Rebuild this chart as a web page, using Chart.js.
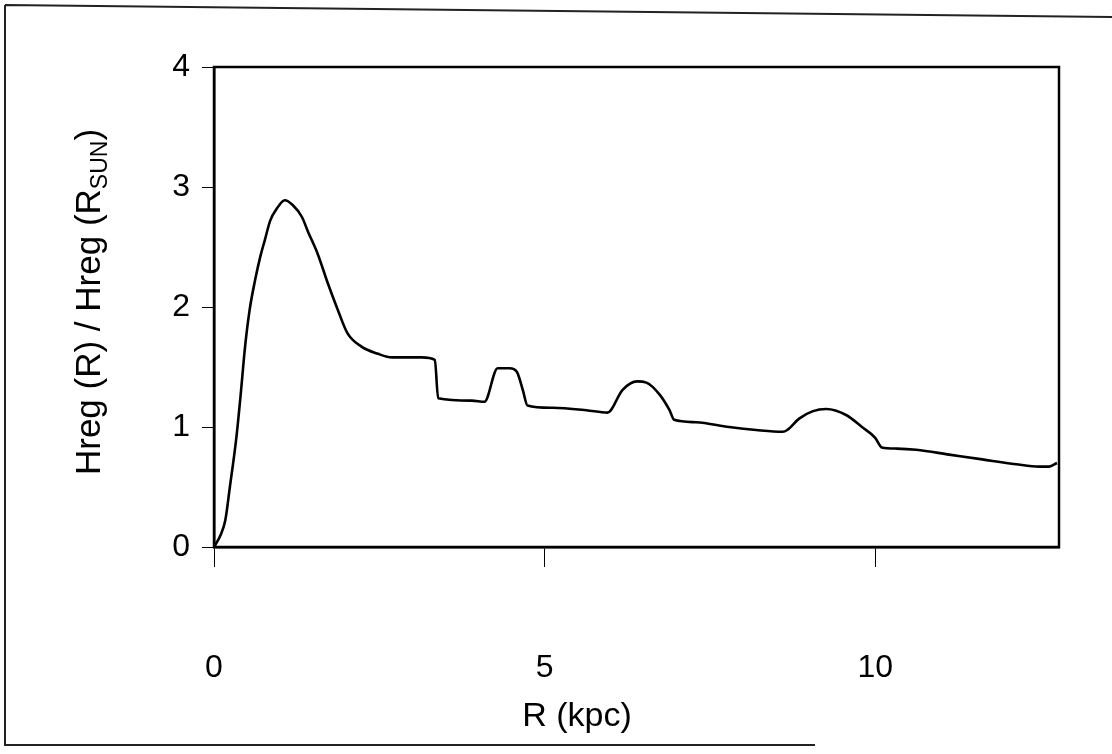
<!DOCTYPE html>
<html><head><meta charset="utf-8">
<script src="https://cdn.jsdelivr.net/npm/chart.js@4"></script>
<style>html,body{margin:0;padding:0;background:#fff}canvas{display:block}</style>
</head><body>
<canvas id="c" width="1112" height="754"></canvas>
<script>
// ---- data ----
const rKpc = [0, 0.10, 0.17, 0.24, 0.34, 0.40, 0.47, 0.54, 0.62, 0.70, 0.77, 0.85, 0.95, 1.07, 1.19, 1.33, 1.42, 1.57, 1.72, 1.87, 2.02, 2.23, 2.48, 2.69, 3.14, 3.34, 3.39, 3.90, 4.09, 4.29, 4.47, 4.58, 4.67, 4.74, 5.12, 5.63, 5.95, 6.18, 6.40, 6.54, 6.74, 6.89, 6.96, 7.29, 7.79, 8.20, 8.60, 8.67, 8.85, 9.05, 9.26, 9.56, 9.80, 10.0, 10.1, 10.33, 10.62, 11.12, 11.62, 12.13, 12.48, 12.63, 12.75];
const hRatio = [0, 0.1, 0.22, 0.5, 0.92, 1.25, 1.67, 1.98, 2.22, 2.42, 2.56, 2.72, 2.82, 2.89, 2.85, 2.75, 2.63, 2.44, 2.2, 1.98, 1.78, 1.67, 1.61, 1.58, 1.58, 1.56, 1.24, 1.22, 1.21, 1.49, 1.49, 1.46, 1.31, 1.18, 1.16, 1.14, 1.12, 1.31, 1.38, 1.37, 1.27, 1.14, 1.06, 1.04, 1.0, 0.975, 0.96, 0.975, 1.07, 1.13, 1.15, 1.10, 1.0, 0.91, 0.83, 0.82, 0.81, 0.77, 0.73, 0.69, 0.67, 0.67, 0.70];
const xTickValues = [0, 5, 10];
const yTickValues = [0, 1, 2, 3, 4];
const xTitle = 'R (kpc)';
const yTitleMain = 'Hreg (R) / Hreg (R';
const yTitleSub = 'SUN';
const yTitleEnd = ')';

const FONT = '"Liberation Sans", Arial, sans-serif';

const decor = {
  id: 'decor',
  beforeDraw(chart) {
    const ctx = chart.ctx;
    ctx.save();
    ctx.fillStyle = '#fff';
    ctx.fillRect(0, 0, chart.width, chart.height);
    // scanned page frame
    ctx.strokeStyle = '#222';
    ctx.lineWidth = 2;
    ctx.beginPath();
    ctx.moveTo(5, 5); ctx.lineTo(1112, 17);
    ctx.moveTo(5, 5); ctx.lineTo(5, 745);
    ctx.lineTo(815, 745);
    ctx.stroke();
    ctx.restore();
  },
  afterDraw(chart) {
    const ctx = chart.ctx, a = chart.chartArea;
    ctx.save();
    ctx.strokeStyle = '#000';
    ctx.lineWidth = 2.5;
    ctx.strokeRect(a.left, a.top, a.right - a.left, a.bottom - a.top);
    ctx.fillStyle = '#000';
    // x title
    ctx.font = '34px ' + FONT;
    ctx.textAlign = 'center';
    ctx.textBaseline = 'middle';
    ctx.fillText(xTitle, 577, 717);
    // y title with subscript
    ctx.translate(88, 302);
    ctx.rotate(-Math.PI / 2);
    ctx.textAlign = 'left';
    ctx.textBaseline = 'alphabetic';
    const mainF = '35px ' + FONT, subF = '23px ' + FONT;
    ctx.font = mainF; const w1 = ctx.measureText(yTitleMain).width; const w3 = ctx.measureText(yTitleEnd).width;
    ctx.font = subF; const w2 = ctx.measureText(yTitleSub).width;
    let x0 = -(w1 + w2 + w3) / 2;
    ctx.font = mainF; ctx.fillText(yTitleMain, x0, 12);
    ctx.font = subF; ctx.fillText(yTitleSub, x0 + w1, 19);
    ctx.font = mainF; ctx.fillText(yTitleEnd, x0 + w1 + w2, 12);
    ctx.restore();
  }
};

new Chart(document.getElementById('c'), {
  type: 'line',
  data: {
    datasets: [{
      data: rKpc.map((r, i) => ({ x: r, y: hRatio[i] })),
      borderColor: '#000',
      borderWidth: 2.6,
      pointRadius: 0,
      cubicInterpolationMode: 'monotone',
      fill: false
    }]
  },
  options: {
    responsive: false,
    animation: false,
    layout: { padding: { top: 67, right: 53, left: 0, bottom: 0 } },
    plugins: { legend: { display: false }, tooltip: { enabled: false } },
    scales: {
      x: {
        type: 'linear', min: 0, max: 12.78,
        afterBuildTicks: s => { s.ticks = xTickValues.map(v => ({ value: v })); },
        afterFit: s => { s.height = 207; },
        ticks: { font: { family: FONT, size: 32 }, color: '#000', padding: 82, maxRotation: 0 },
        grid: { drawOnChartArea: false, color: '#000', tickLength: 20, lineWidth: 1 },
        border: { color: '#000', width: 2.5 }
      },
      y: {
        min: 0, max: 4,
        afterBuildTicks: s => { s.ticks = yTickValues.map(v => ({ value: v })); },
        afterFit: s => { s.width = 214; },
        ticks: { font: { family: FONT, size: 32 }, color: '#000', padding: 12 },
        grid: { drawOnChartArea: false, color: '#000', tickLength: 12, lineWidth: 1 },
        border: { color: '#000', width: 2.5 }
      }
    }
  },
  plugins: [decor]
});
</script>
</body></html>
